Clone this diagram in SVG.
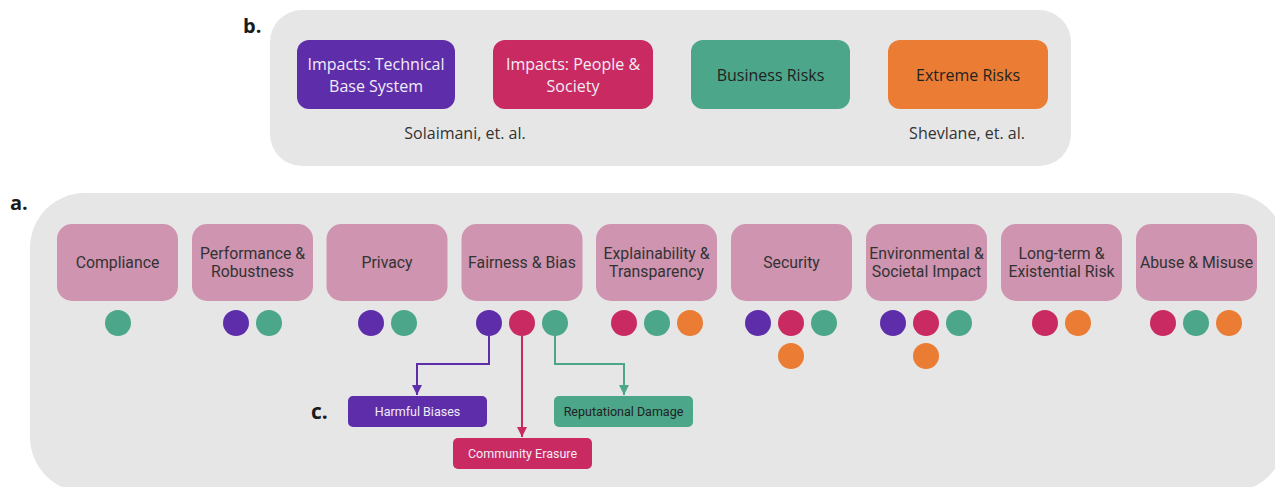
<svg xmlns="http://www.w3.org/2000/svg" width="1275" height="487" viewBox="0 0 1275 487">
<style>
.panel{fill:#e6e6e6}
.lbl{font-family:"Open Sans","Noto Sans",sans-serif;font-weight:700;font-size:20px;fill:#1a1a1a}
.bt{font-family:"Open Sans","Noto Sans",sans-serif;font-size:16px;text-anchor:middle}
.cat{fill:#cf94b0}
.ct{font-family:Roboto,"Liberation Sans",sans-serif;font-size:15.8px;fill:#333;text-anchor:middle}
.st{font-family:Roboto,"Liberation Sans",sans-serif;font-size:12.5px;text-anchor:middle}
.P{fill:#5e2eaa}.K{fill:#c92a62}.G{fill:#4ba68a}.O{fill:#ea7d33}
.w{fill:#f2ecf7}.d{fill:#222}
.ln{fill:none;stroke-width:2}
</style>
<defs>
<marker id="aP" viewBox="0 0 10 10" refX="10" refY="5" markerWidth="5" markerHeight="5" orient="auto" markerUnits="strokeWidth"><path d="M0,0L10,5L0,10z" fill="#5e2eaa"/></marker>
<marker id="aK" viewBox="0 0 10 10" refX="10" refY="5" markerWidth="5" markerHeight="5" orient="auto" markerUnits="strokeWidth"><path d="M0,0L10,5L0,10z" fill="#c92a62"/></marker>
<marker id="aG" viewBox="0 0 10 10" refX="10" refY="5" markerWidth="5" markerHeight="5" orient="auto" markerUnits="strokeWidth"><path d="M0,0L10,5L0,10z" fill="#4ba68a"/></marker>
</defs>
<rect width="1275" height="487" fill="#ffffff"/>

<!-- panel b -->
<g id="panel-b">
<rect class="panel" x="270" y="10" width="801" height="156" rx="32"/>
<text class="lbl" x="243" y="33">b.</text>
</g>
<g id="b-technical"><rect class="P" x="297" y="40" width="158" height="69" rx="12"/>
<text class="bt w" x="376" y="70">Impacts: Technical</text><text class="bt w" x="376" y="92">Base System</text></g>
<g id="b-people"><rect class="K" x="493" y="40" width="160" height="69" rx="12"/>
<text class="bt w" x="573" y="70">Impacts: People &amp;</text><text class="bt w" x="573" y="92">Society</text></g>
<g id="b-business"><rect class="G" x="691" y="40" width="159" height="69" rx="12"/>
<text class="bt d" x="770.5" y="81">Business Risks</text></g>
<g id="b-extreme"><rect class="O" x="888" y="40" width="160" height="69" rx="12"/>
<text class="bt d" x="968" y="81">Extreme Risks</text></g>
<text class="bt" x="465" y="139" fill="#333">Solaimani, et. al.</text>
<text class="bt" x="967" y="139" fill="#333">Shevlane, et. al.</text>

<!-- panel a -->
<g id="panel-a">
<rect class="panel" x="30" y="193" width="1255" height="299" rx="55"/>
<text class="lbl" x="10" y="210">a.</text>
</g>

<g id="compliance"><rect class="cat" x="57" y="224" width="121" height="77" rx="15"/>
<text class="ct" x="117.5" y="268">Compliance</text>
<circle class="G" cx="118" cy="323" r="13"/></g>

<g id="performance"><rect class="cat" x="192" y="224" width="121" height="77" rx="15"/>
<text class="ct" x="252.5" y="259">Performance &amp;</text><text class="ct" x="252.5" y="277">Robustness</text>
<circle class="P" cx="236" cy="323" r="13"/><circle class="G" cx="269" cy="323" r="13"/></g>

<g id="privacy"><rect class="cat" x="326.5" y="224" width="121" height="77" rx="15"/>
<text class="ct" x="387" y="268">Privacy</text>
<circle class="P" cx="371" cy="323" r="13"/><circle class="G" cx="404" cy="323" r="13"/></g>

<g id="fairness"><rect class="cat" x="461.5" y="224" width="121" height="77" rx="15"/>
<text class="ct" x="522" y="268">Fairness &amp; Bias</text>
<circle class="P" cx="489" cy="323" r="13"/><circle class="K" cx="522" cy="323" r="13"/><circle class="G" cx="555" cy="323" r="13"/></g>

<g id="explainability"><rect class="cat" x="596" y="224" width="121" height="77" rx="15"/>
<text class="ct" x="656.5" y="259">Explainability &amp;</text><text class="ct" x="656.5" y="277">Transparency</text>
<circle class="K" cx="624" cy="323" r="13"/><circle class="G" cx="657" cy="323" r="13"/><circle class="O" cx="690" cy="323" r="13"/></g>

<g id="security"><rect class="cat" x="731" y="224" width="121" height="77" rx="15"/>
<text class="ct" x="791.5" y="268">Security</text>
<circle class="P" cx="758" cy="323" r="13"/><circle class="K" cx="791" cy="323" r="13"/><circle class="G" cx="824" cy="323" r="13"/><circle class="O" cx="791" cy="356" r="13"/></g>

<g id="environmental"><rect class="cat" x="866" y="224" width="121" height="77" rx="15"/>
<text class="ct" x="926.5" y="259">Environmental &amp;</text><text class="ct" x="926.5" y="277">Societal Impact</text>
<circle class="P" cx="893" cy="323" r="13"/><circle class="K" cx="926" cy="323" r="13"/><circle class="G" cx="959" cy="323" r="13"/><circle class="O" cx="926" cy="356" r="13"/></g>

<g id="longterm"><rect class="cat" x="1001" y="224" width="121" height="77" rx="15"/>
<text class="ct" x="1061.5" y="259">Long-term &amp;</text><text class="ct" x="1061.5" y="277">Existential Risk</text>
<circle class="K" cx="1045" cy="323" r="13"/><circle class="O" cx="1078" cy="323" r="13"/></g>

<g id="abuse"><rect class="cat" x="1136" y="224" width="121" height="77" rx="15"/>
<text class="ct" x="1196.5" y="268">Abuse &amp; Misuse</text>
<circle class="K" cx="1163" cy="323" r="13"/><circle class="G" cx="1196" cy="323" r="13"/><circle class="O" cx="1229" cy="323" r="13"/></g>

<!-- connectors -->
<g id="connectors">
<path class="ln" stroke="#5e2eaa" d="M489,336V364H417V395" marker-end="url(#aP)"/>
<path class="ln" stroke="#c92a62" d="M522,336V437" marker-end="url(#aK)"/>
<path class="ln" stroke="#4ba68a" d="M555,336V364H624V395" marker-end="url(#aG)"/>
</g>

<text class="lbl" x="311" y="419" style="font-size:21px">c.</text>
<g id="harmful"><rect class="P" x="348" y="396" width="139" height="31" rx="5"/>
<text class="st w" x="417.5" y="416">Harmful Biases</text></g>
<g id="erasure"><rect class="K" x="453" y="438" width="139" height="31" rx="5"/>
<text class="st w" x="522.5" y="458">Community Erasure</text></g>
<g id="reputational"><rect class="G" x="554" y="396" width="139" height="31" rx="5"/>
<text class="st d" x="623.5" y="416">Reputational Damage</text></g>
</svg>
